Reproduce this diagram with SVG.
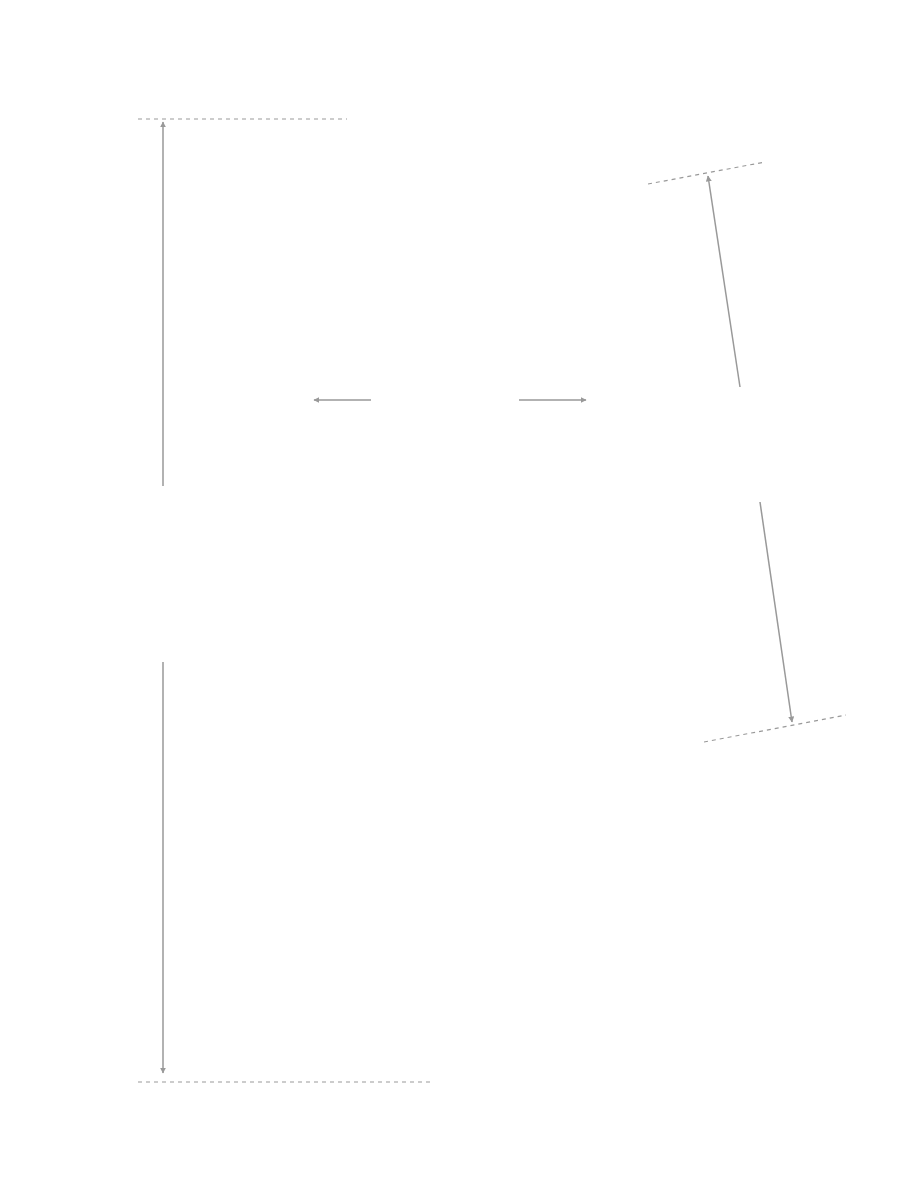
<svg xmlns="http://www.w3.org/2000/svg" width="900" height="1200" viewBox="0 0 900 1200">
<style>
.d{stroke:#999;stroke-width:1.2;stroke-dasharray:4 4;fill:none}
.a{stroke:#999;stroke-width:1.5;fill:none;marker-end:url(#ah)}
</style>
<defs><marker id="ah" viewBox="0 0 10 10" refX="9" refY="5" markerWidth="6" markerHeight="6" orient="auto" markerUnits="userSpaceOnUse"><path d="M0,0 L10,5 L0,10 Z" fill="#999"/></marker></defs>
<rect width="900" height="1200" fill="#fff"/>
<g id="guides">
<line class="d" x1="138" y1="119" x2="347" y2="119"/>
<line class="d" x1="138" y1="1082" x2="434" y2="1082"/>
<line class="d" x1="648" y1="184" x2="765" y2="162"/>
<line class="d" x1="704" y1="742" x2="846" y2="715"/>
</g>
<g id="connectors">
<line class="a" x1="163" y1="486" x2="163" y2="122"/>
<line class="a" x1="163" y1="662" x2="163" y2="1073"/>
<line class="a" x1="371" y1="400" x2="314" y2="400"/>
<line class="a" x1="519" y1="400" x2="586" y2="400"/>
<line class="a" x1="740" y1="387" x2="708" y2="176"/>
<line class="a" x1="760" y1="502" x2="792" y2="722"/>
</g>
</svg>
